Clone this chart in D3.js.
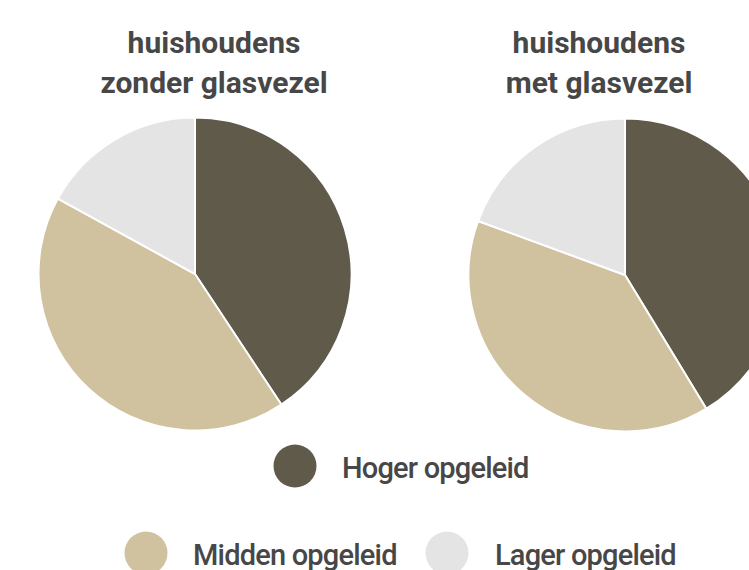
<!DOCTYPE html>
<html>
<head>
<meta charset="utf-8">
<script src="https://cdn.jsdelivr.net/npm/d3@7"></script>
<style>
  body { margin: 0; background: #fff; }
  text { font-family: Roboto, "Noto Sans", sans-serif; fill: #474747; }
</style>
</head>
<body>
<script>
const width = 749;
const height = 570;

// data
const categories = ["Hoger opgeleid", "Midden opgeleid", "Lager opgeleid"];
const colors = ["#5f5a4a", "#d0c19f", "#e4e4e4"];
const zonderGlasvezel = [40.7, 42.3, 17.0];
const metGlasvezel = [41.3, 39.3, 19.4];
const titles = [["huishoudens", "zonder glasvezel"], ["huishoudens", "met glasvezel"]];

const pies = [
  { values: zonderGlasvezel, title: titles[0], cx: 195, cy: 274, tx: 214 },
  { values: metGlasvezel, title: titles[1], cx: 625, cy: 275, tx: 599 }
];
const radius = 156.5;

const svg = d3.select("body").append("svg")
  .attr("width", width)
  .attr("height", height);

const color = d3.scaleOrdinal().domain(categories).range(colors);

const pie = d3.pie().sort(null).value(d => d.value);
const arc = d3.arc().innerRadius(0).outerRadius(radius);

pies.forEach(p => {
  const g = svg.append("g").attr("transform", `translate(${p.cx},${p.cy})`);
  const rows = categories.map((c, i) => ({ cat: c, value: p.values[i] }));
  g.selectAll("path")
    .data(pie(rows))
    .join("path")
    .attr("d", arc)
    .attr("fill", d => color(d.data.cat))
    .attr("stroke", "#fff")
    .attr("stroke-width", 2)
    .attr("stroke-linejoin", "round");

  const t = svg.append("text")
    .attr("text-anchor", "middle")
    .attr("font-weight", "bold")
    .attr("font-size", 30);
  p.title.forEach((line, i) => {
    t.append("tspan")
      .attr("x", p.tx)
      .attr("y", 53 + i * 40)
      .text(line);
  });
});

// legend
const legendPos = [
  { cx: 295, cy: 466, tx: 342 },
  { cx: 146, cy: 553, tx: 193 },
  { cx: 447, cy: 553, tx: 495 }
];
const legend = svg.append("g")
  .selectAll("g")
  .data(categories)
  .join("g");
legend.append("circle")
  .attr("cx", (d, i) => legendPos[i].cx)
  .attr("cy", (d, i) => legendPos[i].cy)
  .attr("r", 21.5)
  .attr("fill", d => color(d));
legend.append("text")
  .attr("x", (d, i) => legendPos[i].tx)
  .attr("y", (d, i) => legendPos[i].cy + 11.5)
  .attr("font-size", 29)
  .attr("font-weight", 500)
  .attr("letter-spacing", -0.8)
  .text(d => d);
</script>
</body>
</html>
